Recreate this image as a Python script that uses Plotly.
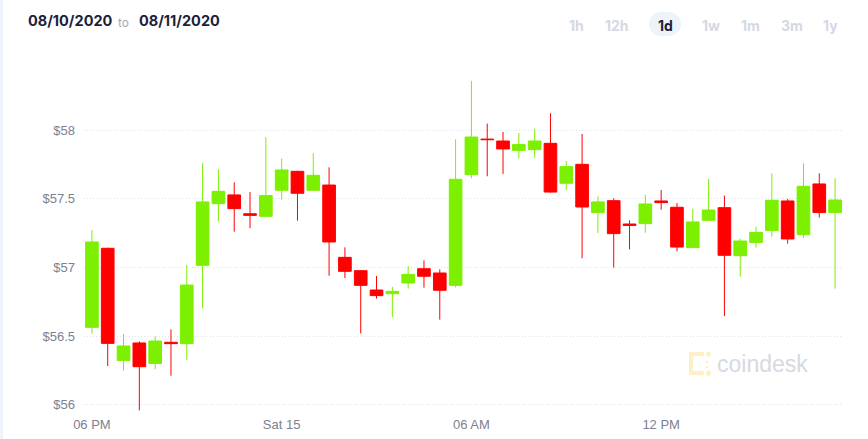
import math
import pandas as pd
import plotly.graph_objects as go

# ---------------- data ----------------
start_time = "2020-08-14 18:00"
n_candles = 48
opens = [56.564, 57.140, 56.323, 56.450, 56.301, 56.455, 56.445, 57.016, 57.465, 57.529,
         57.392, 57.373, 57.563, 57.701, 57.563, 57.601, 57.074, 56.977, 56.836, 56.809,
         56.887, 56.991, 56.960, 56.870, 57.677, 57.936, 57.922, 57.854, 57.859, 57.905,
         57.614, 57.752, 57.400, 57.487, 57.317, 57.320, 57.485, 57.439, 57.145, 57.344,
         57.436, 57.086, 57.183, 57.269, 57.485, 57.239, 57.609, 57.400]
highs = [57.273, 57.145, 56.515, 56.462, 56.498, 56.549, 57.018, 57.762, 57.716, 57.621,
         57.550, 57.951, 57.793, 57.705, 57.832, 57.730, 57.147, 56.980, 56.938, 56.860,
         57.011, 57.052, 56.987, 57.934, 58.360, 58.049, 57.988, 57.981, 58.012, 58.124,
         57.776, 57.973, 57.519, 57.504, 57.344, 57.529, 57.565, 57.470, 57.429, 57.645,
         57.524, 57.210, 57.298, 57.687, 57.499, 57.759, 57.687, 57.650]
lows = [56.518, 56.282, 56.248, 55.959, 56.258, 56.211, 56.326, 56.702, 57.334, 57.261,
        57.286, 57.370, 57.495, 57.341, 57.558, 56.940, 56.923, 56.520, 56.773, 56.637,
        56.846, 56.853, 56.620, 56.855, 57.650, 57.665, 57.682, 57.796, 57.800, 57.546,
        57.563, 57.067, 57.252, 56.999, 57.132, 57.254, 57.422, 57.118, 57.145, 57.344,
        56.646, 56.933, 57.145, 57.225, 57.174, 57.215, 57.363, 56.846]
closes = [57.186, 56.447, 56.428, 56.277, 56.464, 56.445, 56.872, 57.478, 57.555, 57.429,
          57.380, 57.524, 57.711, 57.541, 57.672, 57.186, 56.972, 56.870, 56.795, 56.826,
          56.950, 56.936, 56.834, 57.643, 57.951, 57.932, 57.864, 57.896, 57.922, 57.550,
          57.735, 57.441, 57.478, 57.247, 57.307, 57.463, 57.473, 57.149, 57.332, 57.419,
          57.089, 57.193, 57.256, 57.490, 57.208, 57.592, 57.400, 57.492]

y_tick_vals = [56, 56.5, 57, 57.5, 58]
y_tick_text = ["$56", "$56.5", "$57", "$57.5", "$58"]
x_tick_vals = ["2020-08-14 18:00", "2020-08-15 00:00", "2020-08-15 06:00", "2020-08-15 12:00"]
x_tick_text = ["06 PM", "Sat 15", "06 AM", "12 PM"]
date_from = "08/10/2020"
date_to = "08/11/2020"
buttons = ["1h", "12h", "1d", "1w", "1m", "3m", "1y"]
active_button = "1d"

times = pd.date_range(start_time, periods=n_candles, freq="30min")

# ---------------- layout geometry ----------------
W, H = 868, 439
L, R, T, B = 84, 25, 60, 27
PW = W - L - R
PH = H - T - B


def px(x):
    return (x - L) / PW


def py(y):
    return (H - B - y) / PH


GREEN = "#7CF000"
RED = "#FF0000"

fig = go.Figure()
fig.add_trace(go.Candlestick(
    x=times, open=opens, high=highs, low=lows, close=closes,
    increasing=dict(line=dict(color=GREEN, width=1), fillcolor=GREEN),
    decreasing=dict(line=dict(color=RED, width=1), fillcolor=RED),
    hoverinfo="none", showlegend=False,
))

shapes = []
# left strip
shapes.append(dict(type="rect", xref="paper", yref="paper", x0=px(0), x1=px(3),
                   y0=py(H), y1=py(0), fillcolor="#EFF3FA", line=dict(width=0), layer="below"))


def rounded_rect(x0, y0, x1, y1, r, steps=8):
    pts = []
    corners = [(x1 - r, y0 + r, -90, 0), (x1 - r, y1 - r, 0, 90),
               (x0 + r, y1 - r, 90, 180), (x0 + r, y0 + r, 180, 270)]
    for cx, cy, a0, a1 in corners:
        for k in range(steps + 1):
            a = math.radians(a0 + (a1 - a0) * k / steps)
            pts.append((cx + r * math.cos(a), cy + r * math.sin(a)))
    return "M " + " L ".join(f"{px(x):.5f},{py(y):.5f}" for x, y in pts) + " Z"


btn_x = [576, 617, 665, 711, 750, 792, 830]
shapes.append(dict(type="path", xref="paper", yref="paper",
                   path=rounded_rect(649, 12, 681, 36, 12),
                   fillcolor="#EEF2F9", line=dict(width=0), layer="below"))

# coindesk logo (light yellow)
LOGO = "#FDF0C9"
for (x0, y0, x1, y1) in [(689, 352, 693, 375), (689, 352, 704, 356), (689, 371, 704, 375)]:
    shapes.append(dict(type="rect", xref="paper", yref="paper", x0=px(x0), x1=px(x1),
                       y0=py(y1), y1=py(y0), fillcolor=LOGO, line=dict(width=0), layer="below"))
for (cx, cy, r) in [(701, 354, 2.6), (708.5, 354, 2.6), (700.5, 373, 2.6), (708.5, 373, 2.6),
                    (707, 362, 1.3), (707, 367, 1.3)]:
    shapes.append(dict(type="circle", xref="paper", yref="paper", x0=px(cx - r), x1=px(cx + r),
                       y0=py(cy + r), y1=py(cy - r), fillcolor=LOGO, line=dict(width=0), layer="below"))

annotations = []
annotations.append(dict(text=f"<b>{date_from}</b>", x=px(26), y=py(21), xref="paper", yref="paper",
                        xanchor="left", yanchor="middle", showarrow=False,
                        font=dict(family="Inter", size=14.5, color="#1B1F3B")))
annotations.append(dict(text="to", x=px(116), y=py(22), xref="paper", yref="paper",
                        xanchor="left", yanchor="middle", showarrow=False,
                        font=dict(family="Inter", size=12, color="#A6AAB8")))
annotations.append(dict(text=f"<b>{date_to}</b>", x=px(137), y=py(21), xref="paper", yref="paper",
                        xanchor="left", yanchor="middle", showarrow=False,
                        font=dict(family="Inter", size=14.5, color="#1B1F3B")))
for label, bx in zip(buttons, btn_x):
    annotations.append(dict(text=f"<b>{label}</b>", x=px(bx), y=py(25), xref="paper", yref="paper",
                            xanchor="center", yanchor="middle", showarrow=False,
                            font=dict(family="Inter", size=14,
                                      color="#1B1F3B" if label == active_button else "#D5D8E3")))
annotations.append(dict(text="coindesk", x=px(715), y=py(364), xref="paper", yref="paper",
                        xanchor="left", yanchor="middle", showarrow=False,
                        font=dict(family="Liberation Sans", size=23, color="#D6D9E0")))

fig.update_layout(
    width=W, height=H,
    margin=dict(l=L, r=R, t=T, b=B, pad=0, autoexpand=False),
    paper_bgcolor="white", plot_bgcolor="white",
    boxgap=0.2, boxgroupgap=0,
    shapes=shapes, annotations=annotations,
    font=dict(family="Liberation Sans", size=13, color="#7C8190"),
    xaxis=dict(
        type="date",
        range=["2020-08-14 17:45", "2020-08-15 17:45"],
        rangeslider=dict(visible=False),
        tickvals=x_tick_vals, ticktext=x_tick_text,
        showgrid=False, zeroline=False, showline=False, ticks="",
        tickfont=dict(family="Liberation Sans", size=13, color="#7C8190"),
        ticklabelstandoff=3, automargin=False,
        fixedrange=True,
    ),
    yaxis=dict(
        range=[58 - (H - B - 130.3) / 137.2, 58 + (130.3 - T) / 137.2],
        tickvals=y_tick_vals, ticktext=y_tick_text,
        showgrid=True, gridcolor="#DCE3EF", griddash="1px,2px", gridwidth=1,
        zeroline=False, showline=False, ticks="",
        tickfont=dict(family="Liberation Sans", size=13, color="#7C8190"),
        ticklabelstandoff=8, automargin=False,
        fixedrange=True,
    ),
    hovermode=False,
)

fig.write_html("out.html", config=dict(displayModeBar=False))
